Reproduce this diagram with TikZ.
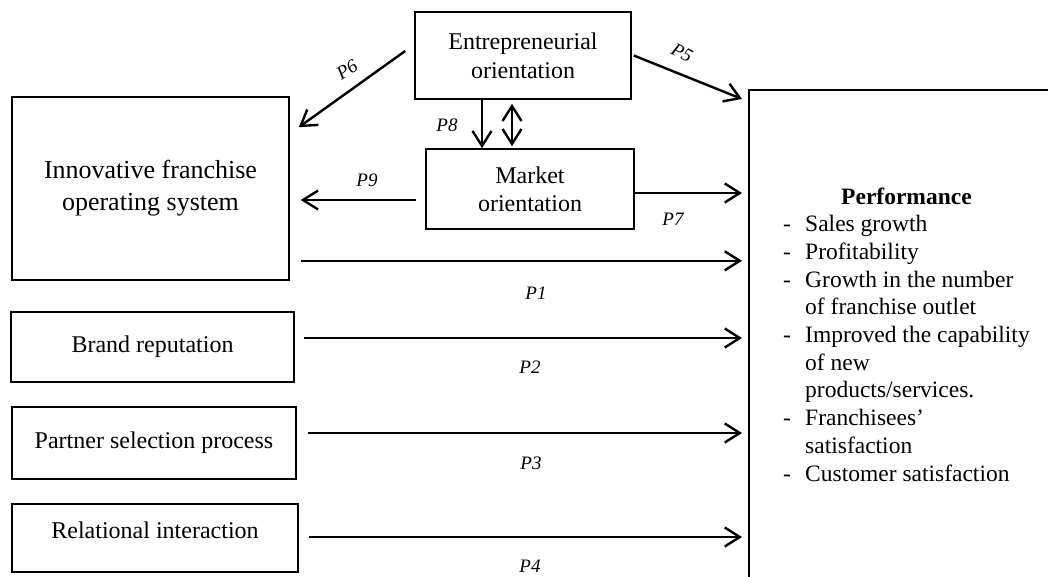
\documentclass[tikz,border=0pt]{standalone}
\usepackage{fontspec}
\setmainfont{Liberation Serif}
\usetikzlibrary{arrows.meta,calc}
\begin{document}
\begin{tikzpicture}[x=1pt,y=-1pt,
  box/.style={draw, line width=1.6pt, inner sep=0pt, align=center},
  arr/.style={line width=2.4pt, -{Straight Barb[length=15pt,width=19pt]}},
  dbl/.style={line width=2.4pt, {Straight Barb[length=15pt,width=19pt]}-{Straight Barb[length=15pt,width=19pt]}},
  plab/.style={font=\fontsize{19}{22}\selectfont\itshape, inner sep=0pt}]
\useasboundingbox (0,0) rectangle (1048,576);
\clip (0,0) rectangle (1048,576);
\fill[white] (0,0) rectangle (1048,576);

% nodes
\node[box, minimum width=216, minimum height=87, font=\fontsize{24}{29}\selectfont] (eo) at (523,55.5) {Entrepreneurial\\orientation};
\node[box, minimum width=208, minimum height=80, font=\fontsize{24}{28}\selectfont] (mo) at (530,189) {Market\\orientation};
\node[box, minimum width=277, minimum height=183, font=\fontsize{26}{32}\selectfont] (ifos) at (150.5,188.5) {Innovative franchise\\operating system};
\node[box, minimum width=283, minimum height=70, font=\fontsize{24}{28}\selectfont] (br) at (152.5,347) {Brand reputation};
\node[box, minimum width=284, minimum height=72, font=\fontsize{24}{28}\selectfont] (ps) at (154,443) {Partner selection process};
\node[box, minimum width=286, minimum height=68, font=\fontsize{24}{28}\selectfont] (ri) at (155,538) {\raisebox{8pt}[\height][\depth]{Relational interaction}};
\node[box, anchor=north west, minimum width=340, minimum height=520] (perf) at (748,89) {};
\node[anchor=base west, inner sep=0pt, font=\fontsize{23.5}{27.7}\selectfont] (perftext) at (783,204)
 {\begin{tabular}[t]{@{}l@{\hspace{14.2pt}}l@{}}
  \multicolumn{2}{c}{\textbf{Performance}}\\
  - & Sales growth\\
  - & Profitability\\
  - & Growth in the number\\
    & of franchise outlet\\
  - & Improved the capability\\
    & of new\\
    & products/services.\\
  - & Franchisees’\\
    & satisfaction\\
  - & Customer satisfaction
 \end{tabular}};

% connectors
\draw[arr] ([shift={(-9,-4.5)}]eo.west) -- ([shift={(9,31)}]ifos.north east);
\draw[arr] ([shift={(2,0)}]eo.east) -- ([shift={(-6,10)}]perf.north west);
\draw[arr] ([shift={(-41,0)}]eo.south) -- ([shift={(-48,0)}]mo.north);
\draw[dbl] ([shift={(-11,4)}]eo.south) -- ([shift={(-18,-2)}]mo.north);
\draw[arr] ([shift={(-9,11)}]mo.west) -- ([shift={(11,11.5)}]ifos.east);
\draw[arr] ([shift={(0,4)}]mo.east) -- ($(perf.west |- mo.east)+(-6,4)$);
\draw[arr] ([shift={(11,-20)}]ifos.south east) -- ($(perf.west |- ifos.south east)+(-6,-20)$);
\draw[arr] ([shift={(9,-9)}]br.east) -- ($(perf.west |- br.east)+(-6,-9)$);
\draw[arr] ([shift={(11,-10)}]ps.east) -- ($(perf.west |- ps.east)+(-6,-10)$);
\draw[arr] ([shift={(10,-1)}]ri.east) -- ($(perf.west |- ri.east)+(-6,-1)$);

% labels
\node[plab] (l1) at (536,293) {P1};
\node[plab] (l2) at (530,367) {P2};
\node[plab] (l3) at (531,463) {P3};
\node[plab] (l4) at (530,566) {P4};
\node[plab, rotate=-28] (l5) at (682,53) {P5};
\node[plab, rotate=32] (l6) at (347,70) {P6};
\node[plab] (l7) at (673,219) {P7};
\node[plab] (l8) at (447,125) {P8};
\node[plab] (l9) at (367,180) {P9};
\end{tikzpicture}
\end{document}
